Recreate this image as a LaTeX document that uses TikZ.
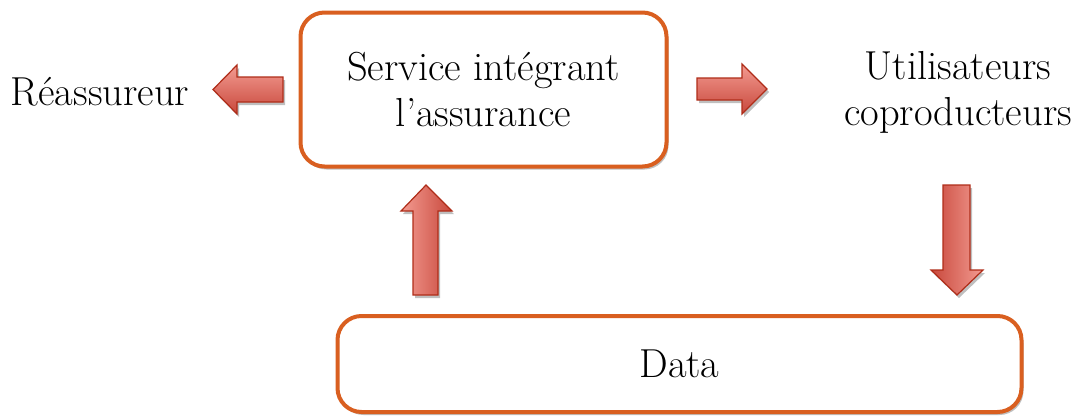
\documentclass[tikz,border=0pt]{standalone}
\usetikzlibrary{shadows}
\definecolor{boxorange}{RGB}{217,95,32}
\definecolor{arrowlight}{RGB}{243,155,145}
\definecolor{arrowdark}{RGB}{200,72,60}
\definecolor{arrowedge}{RGB}{175,45,25}
\begin{document}
\begin{tikzpicture}[x=1pt,y=-1pt,
  bigfont/.style={font=\fontsize{40.5}{46}\selectfont},
  mainbox/.style={draw=boxorange, line width=4pt, rounded corners=24pt, fill=white,
    drop shadow={shadow xshift=2pt, shadow yshift=-3pt, opacity=0.25, fill=black},
    align=center, bigfont, inner sep=0pt},
  label/.style={align=center, bigfont, inner sep=0pt},
  harrow/.style={draw=arrowedge, line width=1.2pt, line join=miter, top color=arrowlight, bottom color=arrowdark,
    drop shadow={shadow xshift=2pt, shadow yshift=-3pt, opacity=0.25, fill=black}},
  uarrow/.style={draw=arrowedge, line width=1.2pt, line join=miter, left color=arrowlight, right color=arrowdark,
    drop shadow={shadow xshift=2pt, shadow yshift=-3pt, opacity=0.25, fill=black}},
  darrow/.style={draw=arrowedge, line width=1.2pt, line join=miter, left color=arrowdark, right color=arrowlight,
    drop shadow={shadow xshift=2pt, shadow yshift=-3pt, opacity=0.25, fill=black}}
]
\useasboundingbox (0,0) rectangle (1080,416);

\node[mainbox, minimum width=366pt, minimum height=154pt] (service) at (483.5,89.5)
  {Service intégrant\\l’assurance};
\node[mainbox, minimum width=684pt, minimum height=96pt] (data) at (679.5,364) {Data};

\node[label, anchor=center] (reass) at (100,92) {Réassureur};
\node[label, anchor=center] (users) at (958,92) {Utilisateurs\\coproducteurs};

% left arrow (service -> reassureur)
\path[harrow] (283,77) -- (237,77) -- (237,65) -- (213,89.5) -- (237,114) -- (237,102) -- (283,102) -- cycle;
% right arrow (service -> users)
\path[harrow] (697,78) -- (742,78) -- (742,64) -- (767,89) -- (742,114) -- (742,100) -- (697,100) -- cycle;
% up arrow (data -> service)
\path[uarrow] (413,295) -- (413,211) -- (401,211) -- (426,185) -- (452,211) -- (438,211) -- (438,295) -- cycle;
% down arrow (users -> data)
\path[darrow] (943,185) -- (970,185) -- (970,270) -- (983,270) -- (957,295) -- (931,270) -- (943,270) -- cycle;
\end{tikzpicture}
\end{document}
